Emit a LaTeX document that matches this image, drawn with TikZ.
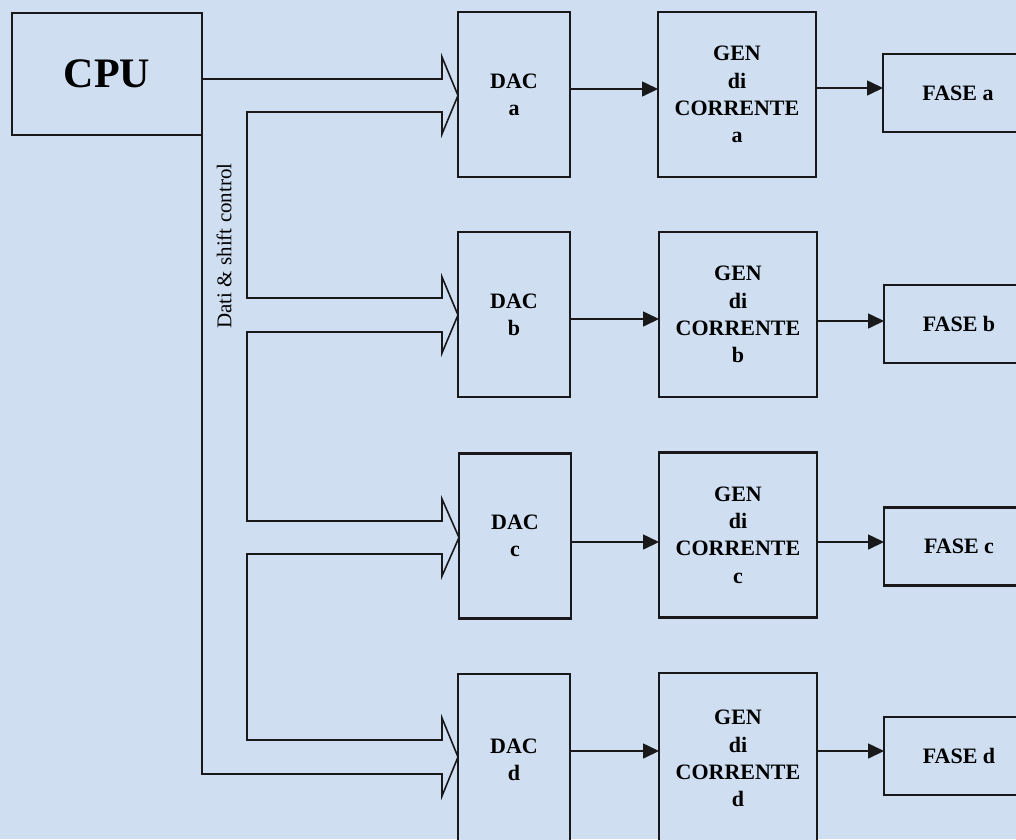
\documentclass[tikz,border=0pt]{standalone}
\usepackage{fontspec}
\setmainfont{Liberation Serif}
\usetikzlibrary{arrows.meta}
\definecolor{bgblue}{RGB}{207,223,241}
\definecolor{ink}{RGB}{25,25,28}
\begin{document}
\begin{tikzpicture}[x=1pt,y=-1pt,
  blockbox/.style={draw=ink,line width=2.4pt,fill=bgblue,inner sep=0pt,outer sep=0pt,
    align=center,font=\fontsize{22}{27.3}\selectfont\bfseries},
  dacbox/.style={blockbox,minimum width=112pt,minimum height=165pt},
  genbox/.style={blockbox,minimum width=158pt,minimum height=165pt},
  fasebox/.style={blockbox,minimum width=150pt,minimum height=78pt},
  conn/.style={draw=ink,line width=1.6pt,-{Triangle[length=16pt,width=15pt]}},
  busline/.style={draw=ink,line width=1.6pt,line join=miter}]
\fill[bgblue] (0,0) rectangle (1016,839);
\useasboundingbox (0,0) rectangle (1016,839);

% CPU
\node[blockbox,minimum width=190pt,minimum height=122pt,
  font=\fontsize{42}{48}\selectfont\bfseries] (cpu) at (107,74) {CPU};

% DAC boxes
\node[dacbox] (daca) at (514,94.5) {DAC\\a};
\node[dacbox] (dacb) at (514,314.5) {DAC\\b};
\node[dacbox] (dacc) at (515,536) {DAC\\c};
\node[dacbox,minimum height=175pt] (dacd) at (514,761.5) {};
\node[font=\fontsize{22}{27.3}\selectfont\bfseries,align=center] (dacdt) at (514,759.5) {DAC\\d};

% GEN boxes
\node[genbox] (gena) at (737,94.5) {GEN\\di\\CORRENTE\\a};
\node[genbox] (genb) at (738,314.5) {GEN\\di\\CORRENTE\\b};
\node[genbox] (genc) at (738,535) {GEN\\di\\CORRENTE\\c};
\node[genbox,minimum height=175pt] (gend) at (738,760.5) {};
\node[font=\fontsize{22}{27.3}\selectfont\bfseries,align=center] (gendt) at (738,758.5) {GEN\\di\\CORRENTE\\d};

% FASE boxes
\node[fasebox] (fasea) at (958,93) {FASE a};
\node[fasebox] (faseb) at (959,324) {FASE b};
\node[fasebox] (fasec) at (959,546.5) {FASE c};
\node[fasebox] (fased) at (959,756) {FASE d};

% connectors DAC -> GEN
\draw[conn] (daca.east |- 0,89) -- (gena.west |- 0,89);
\draw[conn] (dacb.east |- 0,319) -- (genb.west |- 0,319);
\draw[conn] (dacc.east |- 0,542) -- (genc.west |- 0,542);
\draw[conn] (dacd.east |- 0,751) -- (gend.west |- 0,751);
% connectors GEN -> FASE
\draw[conn] (gena.east |- 0,88) -- (fasea.west |- 0,88);
\draw[conn] (genb.east |- 0,321) -- (faseb.west |- 0,321);
\draw[conn] (genc.east |- 0,542) -- (fasec.west |- 0,542);
\draw[conn] (gend.east |- 0,751) -- (fased.west |- 0,751);

% data & shift control bus (outlined wide arrow)
\coordinate (busstart) at (cpu.east |- 0,79);
\coordinate (busend) at (cpu.south east);
\draw[busline] (busstart) -- (442,79) -- (442,57) -- (daca.west |- 0,95.5) -- (442,134) -- (442,112)
  -- (247,112) -- (247,298) -- (442,298) -- (442,277) -- (dacb.west |- 0,315) -- (442,353) -- (442,332)
  -- (247,332) -- (247,521) -- (442,521) -- (442,499) -- (dacc.west |- 0,537.5) -- (442,576) -- (442,554)
  -- (247,554) -- (247,740) -- (442,740) -- (442,718) -- (dacd.west |- 0,757) -- (442,796) -- (442,774)
  -- (202,774) -- (busend);

\node[rotate=90,font=\fontsize{21}{24}\selectfont] (buslabel) at (224,246) {Dati \& shift control};
\end{tikzpicture}
\end{document}
